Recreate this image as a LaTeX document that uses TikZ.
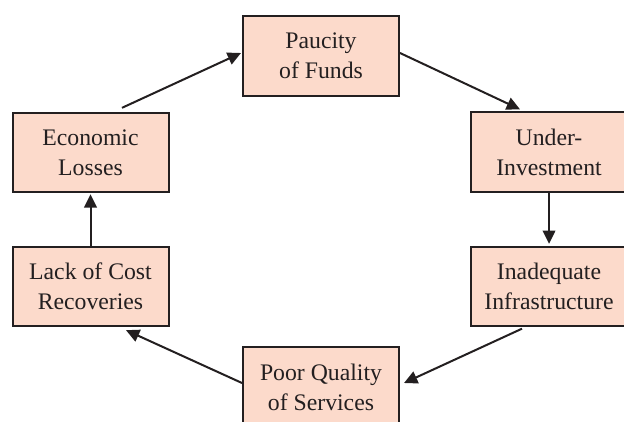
\documentclass[tikz,border=0pt]{standalone}
\usepackage{fontspec}
\setmainfont{Liberation Serif}
\usetikzlibrary{arrows.meta,calc}
\definecolor{boxfill}{HTML}{FCDACB}
\definecolor{ink}{HTML}{231F20}
\tikzset{
  box/.style={draw=ink, line width=1.5pt, fill=boxfill, text=ink,
    minimum width=117pt, minimum height=59.5pt, inner sep=0pt,
    align=center, font=\fontsize{17.8}{22.5}\selectfont},
  conn/.style={draw=ink, line width=1.5pt,
    -{Triangle[length=10pt,width=9.5pt]}}
}
\begin{document}
\begin{tikzpicture}[x=0.75pt,y=-0.75pt]
\useasboundingbox (0,0) rectangle (624,421);
\node[box] (pau) at (321,56) {Paucity\\of Funds};
\node[box] (und) at (549,152) {Under-\\Investment};
\node[box] (ina) at (549,286.5) {Inadequate\\Infrastructure};
\node[box] (poor) at (321,387) {Poor Quality\\of Services};
\node[box] (lack) at (90.5,286.5) {Lack of Cost\\Recoveries};
\node[box] (eco) at (90.5,152.5) {Economic\\Losses};
\draw[conn] ($(eco.north)+(31.5,-4)$) -- ($(pau.west)+(-1,-3)$);
\draw[conn] ($(pau.east)+(0,-3)$) -- ($(und.north)+(-29,-2)$);
\draw[conn] (und.south) -- ($(ina.north)+(0,-2)$);
\draw[conn] ($(ina.south)+(-27,1.5)$) -- ($(poor.east)+(4,-4)$);
\draw[conn] ($(poor.west)+(0,-4)$) -- ($(lack.south)+(35.5,3)$);
\draw[conn] (lack.north) -- ($(eco.south)+(0,1)$);
\end{tikzpicture}
\end{document}
